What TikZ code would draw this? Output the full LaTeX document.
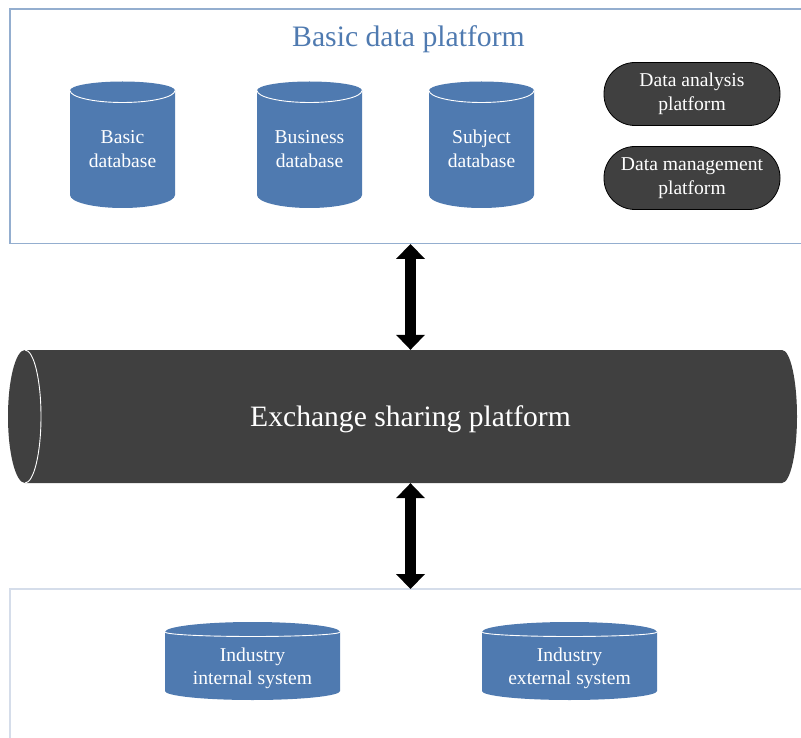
\documentclass[tikz,border=0pt]{standalone}
\usepackage{fontspec}
\setmainfont{Liberation Serif}
\usetikzlibrary{arrows.meta}

\definecolor{dbblue}{HTML}{4F7AB0}
\definecolor{titleblue}{HTML}{4F7AB0}
\definecolor{pipegrey}{HTML}{404040}
\definecolor{topframe}{HTML}{94AECF}
\definecolor{lowframe}{HTML}{D5DDEA}

% left, right, top corner, bottom corner, top bulge, front bulge, bottom bulge
\newcommand{\dbcan}[7]{%
  \fill[dbblue] (#1,#3) arc[start angle=180, end angle=360, x radius={(#2-#1)/2}, y radius=#5]
    -- (#2,#4) arc[start angle=0, end angle=180, x radius={(#2-#1)/2}, y radius=#7] -- cycle;
  \draw[white, line width=0.9pt] (#1,#3) arc[start angle=180, end angle=0, x radius={(#2-#1)/2}, y radius=#6];
}

\tikzset{
  canlabel/.style={text=white, align=center, inner sep=0, font=\fontsize{19.6}{23.5}\selectfont},
  pill/.style={draw=black, line width=0.8pt, fill=pipegrey, text=white, rounded corners=31pt,
    minimum width=176pt, minimum height=63pt, align=center, inner sep=0,
    font=\fontsize{19.6}{23.5}\selectfont},
  dblarrow/.style={line width=11pt,
    {Triangle[width=29pt,length=15pt,line width=0pt]}-{Triangle[width=29pt,length=15pt,line width=0pt]}}
}

\begin{document}
\begin{tikzpicture}[x=1pt, y=-1pt]
        \useasboundingbox (0,0) rectangle (801,738);
        % frames
        \draw[topframe, line width=1.3pt] (801,9) -- (10,9) -- (10,243.5) -- (801,243.5);
        \draw[lowframe, line width=1.3pt] (801,589) -- (10,589) -- (10,738);
        \node[text=titleblue, font=\fontsize{29.7}{34}\selectfont] (title) at (408.5,39) {Basic data platform};
        % databases
        \dbcan{70}{175}{90.5}{195}{9}{12}{13}
        \dbcan{257}{362}{90.5}{195}{9}{12}{13}
        \dbcan{429}{534}{90.5}{195}{9}{12}{13}
        \node[canlabel] (basicdb) at (122.5,149) {Basic\\database};
        \node[canlabel] (businessdb) at (309.5,149) {Business\\database};
        \node[canlabel] (subjectdb) at (481.5,149) {Subject\\database};
        \node[pill] (analysis) at (692,94) {Data analysis\\platform};
        \node[pill] (management) at (692,178) {Data management\\platform};
        % exchange pipe
        \fill[pipegrey] (25,350) -- (782,350)
          arc[start angle=270, end angle=450, x radius=15, y radius=66.5]
          -- (25,483) arc[start angle=90, end angle=270, x radius=17, y radius=66.5] -- cycle;
        \draw[white, line width=0.9pt] (25,350) arc[start angle=270, end angle=450, x radius=16, y radius=66.5];
        \node[text=white, minimum height=133pt, inner sep=0, text height=26.5pt, text depth=6.5pt,
          font=\fontsize{29.6}{34}\selectfont] (exchange) at (410.5,416.5) {Exchange sharing platform};
        % systems
        \dbcan{165}{340}{632}{691}{10}{4.5}{9}
        \dbcan{482}{657}{632}{691}{10}{4.5}{9}
        \node[canlabel] (internal) at (252.5,668.5) {Industry\\internal system};
        \node[canlabel] (external) at (569.5,668.5) {Industry\\external system};
        \coordinate (basicfoot) at (410.5,244);
        \coordinate (systemhead) at (410.5,589);
        \draw[dblarrow] (basicfoot) -- (exchange.north);
        \draw[dblarrow] (exchange.south) -- (systemhead);
        \end{tikzpicture}
\end{document}
